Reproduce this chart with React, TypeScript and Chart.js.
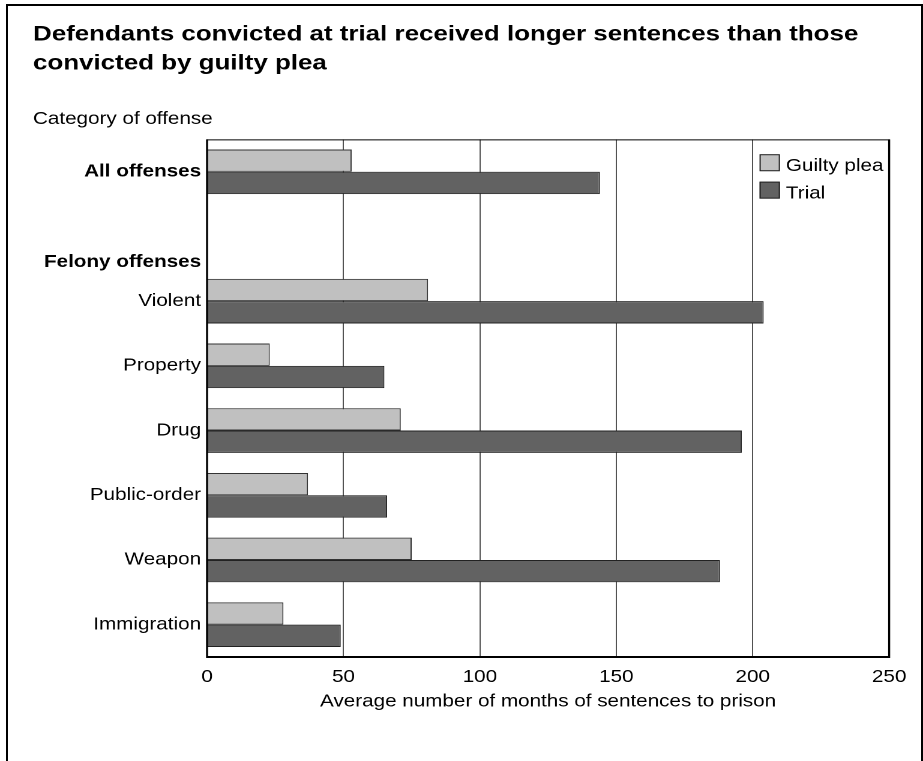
import React, { useEffect, useRef } from 'react'
import { Chart, registerables } from 'chart.js'

Chart.register(...registerables)

const FONT = '"Liberation Sans", Arial, Helvetica, sans-serif'

const titleLines = [
    'Defendants convicted at trial received longer sentences than those',
    'convicted by guilty plea',
]
const categoryTitle = 'Category of offense'
const valueTitle = 'Average number of months of sentences to prison'

const categories = ['All offenses', 'Felony offenses', 'Violent', 'Property', 'Drug', 'Public-order', 'Weapon', 'Immigration']
const headerCategory = 'Felony offenses'
const boldCategories = ['All offenses', 'Felony offenses']

const seriesLabels = ['Guilty plea', 'Trial']
const guiltyPlea = [53, null, 81, 23, 71, 37, 75, 28]
const trial = [144, null, 204, 65, 196, 66, 188, 49]

const valueTicks = [0, 50, 100, 150, 200, 250]

// the reference is stretched sideways, so draw narrow and scale the canvas out
const PAGE_W = 923
const PAGE_H = 761
const STRETCH = 1.2
const CANVAS_W = Math.round(PAGE_W / STRETCH)

const frame = {
    id: 'frame',
    afterDatasetsDraw(chart: Chart) {
        const { ctx, chartArea: a } = chart
        ctx.save()
        ctx.strokeStyle = '#000'
        ctx.lineWidth = 1
        ctx.beginPath()
        ctx.moveTo(a.left, a.top + 0.5)
        ctx.lineTo(a.right, a.top + 0.5)
        ctx.stroke()
        ctx.lineWidth = 2
        ctx.beginPath()
        ctx.moveTo(a.left, a.bottom)
        ctx.lineTo(a.right, a.bottom)
        ctx.stroke()
        ctx.lineWidth = 1.7
        ctx.beginPath()
        ctx.moveTo(a.left, a.top)
        ctx.lineTo(a.left, a.bottom + 1)
        ctx.moveTo(a.right, a.top)
        ctx.lineTo(a.right, a.bottom + 1)
        ctx.stroke()
        ctx.restore()
    },
}

const sideLegend = {
    id: 'sideLegend',
    afterDraw(chart: Chart) {
        const { ctx, chartArea: a } = chart
        ctx.save()
        ctx.font = `17.2px ${FONT}`
        ctx.textAlign = 'left'
        ctx.textBaseline = 'alphabetic'
        chart.data.datasets.forEach((ds, i) => {
            const x = a.right - 108
            const y = a.top + 14.8 + i * 27.4
            ctx.fillStyle = ds.backgroundColor as string
            ctx.fillRect(x, y, 17, 17)
            ctx.strokeStyle = '#222'
            ctx.lineWidth = 1
            ctx.strokeRect(x + 0.5, y + 0.5, 16, 16)
            ctx.fillStyle = '#000'
            ctx.fillText(ds.label as string, x + 22, y + 17)
        })
        ctx.restore()
    },
}

const headerLabel = {
    id: 'headerLabel',
    afterDraw(chart: Chart) {
        const { ctx, chartArea: a } = chart
        const yScale = chart.scales.y
        const i = categories.indexOf(headerCategory)
        const p1 = yScale.getPixelForValue(i)
        const p2 = yScale.getPixelForValue(i + 1)
        ctx.save()
        ctx.font = `bold 17.2px ${FONT}`
        ctx.fillStyle = '#000'
        ctx.textAlign = 'right'
        ctx.textBaseline = 'middle'
        ctx.fillText(headerCategory, a.left - 5, p1 + (p2 - p1) * 0.4)
        ctx.restore()
    },
}

function SentenceChart() {
    const chartRef = useRef<HTMLCanvasElement>(null)
    const chartInstance = useRef<Chart>()

    useEffect(() => {
        if (!chartRef.current) return

        if (chartInstance.current) {
            chartInstance.current.destroy()
        }

        chartInstance.current = new Chart(chartRef.current, {
            type: 'bar',
            data: {
                labels: categories,
                datasets: [
                    {
                        label: seriesLabels[0],
                        data: guiltyPlea,
                        backgroundColor: '#c0c0c0',
                        borderColor: '#333',
                        borderWidth: 1,
                    },
                    {
                        label: seriesLabels[1],
                        data: trial,
                        backgroundColor: '#626262',
                        borderColor: '#222',
                        borderWidth: 1,
                    },
                ],
            },
            plugins: [frame, sideLegend, headerLabel],
            options: {
                indexAxis: 'y',
                animation: false,
                responsive: true,
                maintainAspectRatio: false,
                devicePixelRatio: 2,
                categoryPercentage: 0.69,
                barPercentage: 1,
                layout: {
                    padding: { left: 27.5, right: CANVAS_W - 740.8, top: 0, bottom: 48.7 },
                },
                plugins: {
                    legend: { display: false },
                    tooltip: { enabled: false },
                    title: {
                        display: true,
                        text: titleLines,
                        align: 'start',
                        color: '#000',
                        font: { family: FONT, size: 21.6, weight: 'bold', lineHeight: 1.34 },
                        padding: { top: 20.2, bottom: 10 },
                    },
                    subtitle: {
                        display: true,
                        text: categoryTitle,
                        align: 'start',
                        color: '#000',
                        font: { family: FONT, size: 17.2, lineHeight: 1.2 },
                        padding: { top: 20.8, bottom: 9.9 },
                    },
                },
                scales: {
                    x: {
                        min: valueTicks[0],
                        max: valueTicks[valueTicks.length - 1],
                        border: { display: false },
                        grid: { color: '#333', lineWidth: 0.85, drawTicks: false },
                        ticks: {
                            stepSize: valueTicks[1] - valueTicks[0],
                            padding: 9.8,
                            color: '#000',
                            font: { family: FONT, size: 17.2, lineHeight: 1.2 },
                        },
                        title: {
                            display: true,
                            text: valueTitle,
                            color: '#000',
                            font: { family: FONT, size: 17.2, lineHeight: 1.2 },
                            padding: { top: 0, bottom: 0 },
                        },
                        afterFit: (scale) => {
                            scale.paddingLeft = 0
                            scale.paddingRight = 0
                            scale.height = 55.3
                        },
                    },
                    y: {
                        border: { display: false },
                        grid: { display: false, drawTicks: false },
                        ticks: {
                            autoSkip: false,
                            padding: 5,
                            color: '#000',
                            font: (ctx) => ({
                                family: FONT,
                                size: 17.2,
                                weight: boldCategories.includes(categories[ctx.index]) ? 'bold' : 'normal',
                            }),
                            callback: (value) => {
                                const label = categories[Number(value)]
                                return label === headerCategory ? '' : label
                            },
                        },
                        afterFit: (scale) => {
                            scale.width = 145
                        },
                    },
                },
            },
        })

        return () => {
            if (chartInstance.current) {
                chartInstance.current.destroy()
                chartInstance.current = undefined
            }
        }
    }, [])

    return <canvas ref={chartRef} />
}

export default function App() {
    return (
        <div style={{ position: 'absolute', left: 0, top: 0, width: PAGE_W, height: PAGE_H, overflow: 'hidden', background: '#fff' }}>
            <div
                style={{
                    position: 'absolute',
                    left: 6,
                    top: 4,
                    width: PAGE_W - 6,
                    height: PAGE_H - 4,
                    boxSizing: 'border-box',
                    borderLeft: '2px solid #000',
                    borderTop: '2px solid #000',
                    borderRight: '2px solid #000',
                }}
            />
            <div
                style={{
                    position: 'absolute',
                    left: 0,
                    top: 0,
                    width: CANVAS_W,
                    height: PAGE_H,
                    transform: `scaleX(${PAGE_W / CANVAS_W})`,
                    transformOrigin: '0 0',
                }}
            >
                <SentenceChart />
            </div>
        </div>
    )
}
